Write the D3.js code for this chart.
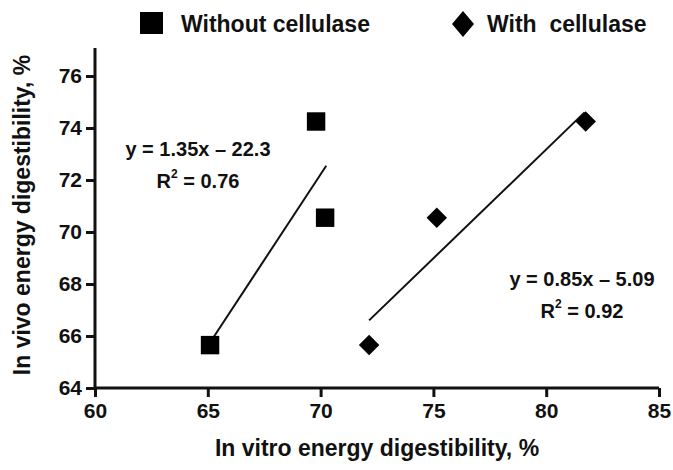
<!DOCTYPE html>
<html>
<head>
<meta charset="utf-8">
<script src="https://cdn.jsdelivr.net/npm/d3@7"></script>
<style>
  body { margin: 0; background: white; }
  text { font-family: "Liberation Sans", Arial, sans-serif; font-weight: bold; fill: #111; }
</style>
</head>
<body>
<div id="chart"></div>
<script>
// data
const withoutX = [65.1, 69.8, 70.2];
const withoutY = [65.65, 74.25, 70.55];
const withX = [72.15, 75.15, 81.75];
const withY = [65.65, 70.55, 74.25];

// fitted lines, as drawn (start and end points)
const trendWithout = [[65.1, 65.75], [70.25, 72.55]];
const trendWith = [[72.15, 66.6], [81.7, 74.6]];

const xTicks = [60, 65, 70, 75, 80, 85];
const yTicks = [64, 66, 68, 70, 72, 74, 76];

let width = 673,
    height = 470;

let margin = { top: 48, bottom: 82, left: 95, right: 14 };

let svg = d3.select('#chart')
            .append('svg')
            .attr('width', width)
            .attr('height', height)
            .style('background', 'white');

const x = d3.scaleLinear()
            .domain([60, 85])
            .range([margin.left, width - margin.right]);

const y = d3.scaleLinear()
            .domain([64, 76])
            .range([388, 76]);

// axes
let xaxis = svg.append('g')
               .attr('transform', `translate(0, ${y(64)})`)
               .call(d3.axisBottom(x).tickValues(xTicks).tickSize(9).tickPadding(6));

let yaxis = svg.append('g')
               .attr('transform', `translate(${x(60)}, 0)`)
               .call(d3.axisLeft(y).tickValues(yTicks).tickSize(9).tickPadding(4));

// y axis runs a little above the last tick
yaxis.select('.domain').attr('d', `M-0,${y(64)}V${margin.top}`);
xaxis.select('.domain').attr('d', `M${x(60)},0H${x(85)}`);

svg.selectAll('.domain').attr('stroke', '#111').attr('stroke-width', 3);
svg.selectAll('.tick line').attr('stroke', '#111').attr('stroke-width', 3);
svg.selectAll('.tick text')
   .attr('font-size', '21px')
   .attr('font-family', '"Liberation Sans", Arial, sans-serif')
   .attr('font-weight', 'bold')
   .attr('fill', '#111');

// axis titles
svg.append('text')
   .attr('x', 377)
   .attr('y', 456)
   .attr('text-anchor', 'middle')
   .attr('font-size', '23px')
   .text('In vitro energy digestibility, %');

svg.append('text')
   .attr('transform', 'rotate(-90)')
   .attr('x', -215)
   .attr('y', 30)
   .attr('text-anchor', 'middle')
   .attr('font-size', '23px')
   .text('In vivo energy digestibility, %');

// trend lines
const line = d3.line().x(d => x(d[0])).y(d => y(d[1]));

svg.append('path')
   .attr('d', line(trendWithout))
   .attr('stroke', '#111')
   .attr('stroke-width', 2)
   .attr('fill', 'none');

svg.append('path')
   .attr('d', line(trendWith))
   .attr('stroke', '#111')
   .attr('stroke-width', 2)
   .attr('fill', 'none');

// markers
const square = d3.symbol().type(d3.symbolSquare).size(340);

svg.selectAll('.sq')
   .data(withoutX)
   .enter()
   .append('path')
   .attr('class', 'sq')
   .attr('d', square)
   .attr('transform', (d, i) => `translate(${x(d)},${y(withoutY[i])})`)
   .attr('fill', '#000');

const diamond = d3.symbol().type(d3.symbolSquare).size(210);

svg.selectAll('.dm')
   .data(withX)
   .enter()
   .append('path')
   .attr('class', 'dm')
   .attr('d', diamond)
   .attr('transform', (d, i) => `translate(${x(d)},${y(withY[i])}) rotate(45)`)
   .attr('fill', '#000');

// equations
function equation(cx, by, eq, r2) {
  svg.append('text')
     .attr('x', cx)
     .attr('y', by)
     .attr('text-anchor', 'middle')
     .attr('font-size', '20px')
     .text(eq);
  let t = svg.append('text')
     .attr('x', cx)
     .attr('y', by + 32)
     .attr('text-anchor', 'middle')
     .attr('font-size', '20px');
  t.append('tspan').text('R');
  t.append('tspan').attr('font-size', '12px').attr('dy', -10).text('2');
  t.append('tspan').attr('dy', 10).text(' = ' + r2);
}

equation(198, 156, 'y = 1.35x \u2013 22.3', '0.76');
equation(582, 286, 'y = 0.85x \u2013 5.09', '0.92');

// legend
const legend = svg.append('g');

legend.append('rect')
      .attr('x', 140)
      .attr('y', 12)
      .attr('width', 23)
      .attr('height', 22)
      .attr('fill', '#000');

legend.append('text')
      .attr('x', 181)
      .attr('y', 32)
      .attr('font-size', '23px')
      .text('Without cellulase');

legend.append('path')
      .attr('d', 'M463,11 L474,24 L463,37 L452,24 Z')
      .attr('fill', '#000');

legend.append('text')
      .attr('x', 487)
      .attr('y', 32)
      .attr('font-size', '23px')
      .attr('xml:space', 'preserve')
      .style('white-space', 'pre')
      .text('With  cellulase');
</script>
</body>
</html>
